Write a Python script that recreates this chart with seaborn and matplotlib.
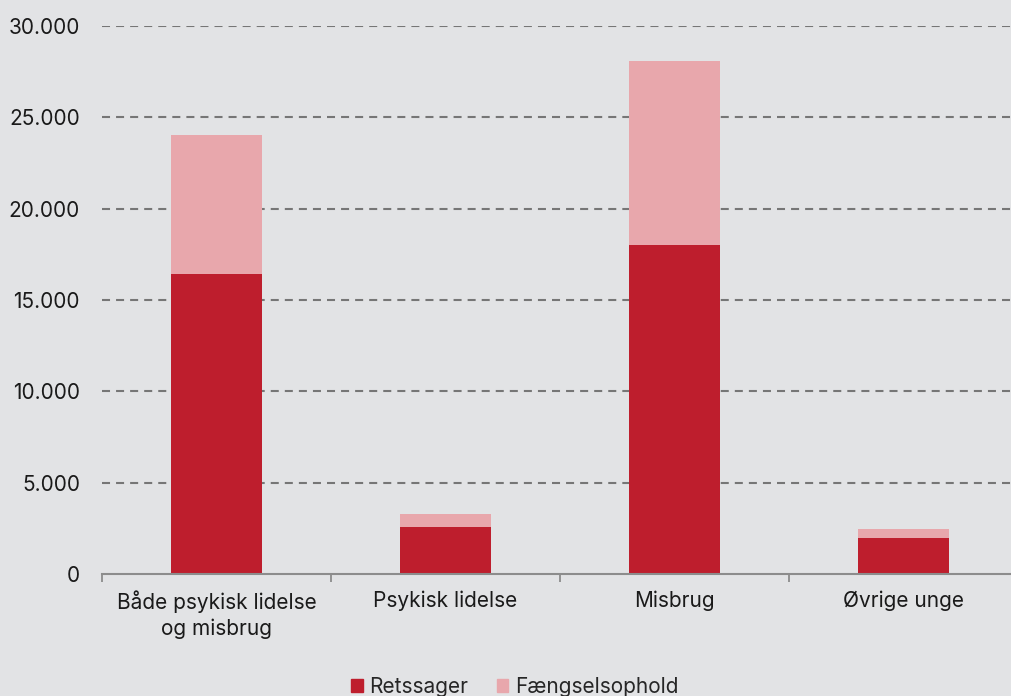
import numpy as np
import pandas as pd
import matplotlib
matplotlib.use("Agg")
import matplotlib.pyplot as plt
import seaborn as sns
from matplotlib.ticker import FuncFormatter, FixedLocator
from matplotlib.patches import Patch

# Data
categories = ["Både psykisk lidelse\nog misbrug", "Psykisk lidelse", "Misbrug", "Øvrige unge"]
retssager = [16400, 2550, 18000, 1950]
faengselsophold = [7650, 750, 10100, 500]

df = pd.DataFrame({"kategori": categories,
                   "Retssager": retssager,
                   "Fængselsophold": faengselsophold})
df["total"] = df["Retssager"] + df["Fængselsophold"]

bg = "#e2e3e5"
dark = "#be1e2d"
light = "#e8a7ac"
axis_grey = "#8c8c8c"

sns.set_theme(style="white")
plt.rcParams["font.family"] = ["Inter", "DejaVu Sans"]

fig = plt.figure(figsize=(10.11, 6.96), dpi=100, facecolor=bg)
# the axes runs a little past the right edge of the figure, as in the original
ax = fig.add_axes([0.101, 0.1753, 0.906, 0.7874])
ax.set_facecolor(bg)

# stacked bars: total in light, retssager on top in dark
sns.barplot(data=df, x="kategori", y="total", color=light, width=0.4,
            saturation=1, ax=ax, zorder=3, edgecolor="none", linewidth=0)
sns.barplot(data=df, x="kategori", y="Retssager", color=dark, width=0.4,
            saturation=1, ax=ax, zorder=4, edgecolor="none", linewidth=0)

ax.set_ylim(0, 30000)
ax.set_xlim(-0.5, 3.5)
ax.yaxis.set_major_locator(FixedLocator(np.arange(0, 30001, 5000)))
ax.yaxis.set_major_formatter(FuncFormatter(lambda v, p: f"{int(v):,}".replace(",", ".")))
for y in range(5000, 30001, 5000):
    ax.axhline(y, color="#767676", lw=1.5, ls=(0, (3.85, 2.9)), zorder=1)

for s in ["top", "right", "left"]:
    ax.spines[s].set_visible(False)
ax.spines["bottom"].set_color(axis_grey)
ax.spines["bottom"].set_linewidth(1.5)
ax.spines["bottom"].set_zorder(5)

ax.set_xlabel("")
ax.set_ylabel("")
ax.tick_params(axis="y", length=0, labelsize=15, colors="#1a1a1a", pad=16)
ax.tick_params(axis="x", length=0, labelsize=15, colors="#1a1a1a", pad=12)
for lbl in ax.get_xticklabels():
    lbl.set_linespacing(1.3)
# category separator ticks
ax.set_xticks([-0.5, 0.5, 1.5, 2.5], minor=True)
ax.tick_params(axis="x", which="minor", bottom=True, length=6, width=1.3,
               color=axis_grey, direction="out")

handles = [Patch(color=dark, label="Retssager"), Patch(color=light, label="Fængselsophold")]
fig.legend(handles=handles, loc="lower center", ncol=2, frameon=False,
           fontsize=15, handlelength=0.55, handleheight=0.55, handletextpad=0.3,
           columnspacing=1.4, bbox_to_anchor=(0.509, -0.028))

fig.savefig("out.png", dpi=100, facecolor=bg)
